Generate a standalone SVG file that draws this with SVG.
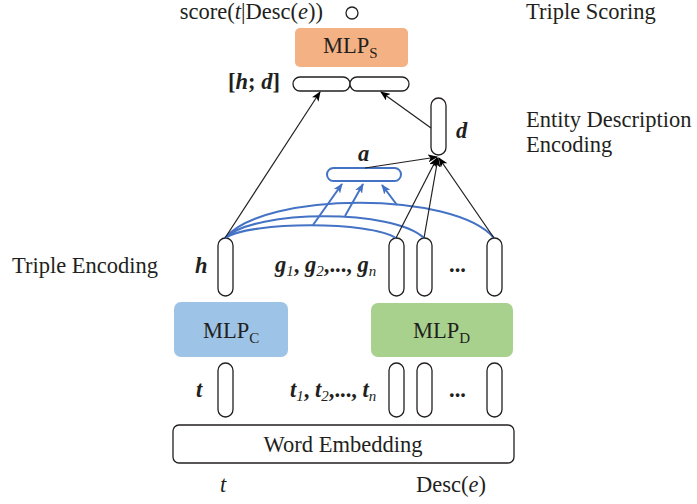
<svg xmlns="http://www.w3.org/2000/svg" width="697" height="504" viewBox="0 0 697 504">
<defs>
<marker id="ak" markerWidth="10" markerHeight="8" refX="9" refY="4" orient="auto" markerUnits="userSpaceOnUse"><path d="M0,0 L10,4 L0,8 L2.5,4 Z" fill="#000"/></marker>
<marker id="ab" markerWidth="10" markerHeight="8" refX="9" refY="4" orient="auto" markerUnits="userSpaceOnUse"><path d="M0,0 L10,4 L0,8 L2.5,4 Z" fill="#4472C4"/></marker>
</defs>
<style>
text{font-family:"Liberation Serif","Times New Roman",serif;font-size:22.5px;fill:#231F20}
.bi{font-weight:bold;font-style:italic}
.sub{font-size:15px}
.cap{fill:#fff;stroke:#231F20;stroke-width:1.3}
.k{stroke:#231F20;stroke-width:1.2;fill:none}
.b{stroke:#4472C4;stroke-width:2;fill:none}
</style>
<rect width="697" height="504" fill="#fff"/>

<g id="labels">
<text x="526" y="19">Triple Scoring</text>
<text x="526" y="127">Entity Description</text>
<text x="526" y="152">Encoding</text>
<text x="12" y="273">Triple Encoding</text>
</g>

<g id="score">
<text x="323" y="19" text-anchor="end">score(<tspan font-style="italic">t</tspan>|Desc(<tspan font-style="italic">e</tspan>))</text>
<circle cx="352" cy="13" r="6" fill="#fff" stroke="#231F20" stroke-width="1.3"/>
</g>

<g id="mlp-s">
<rect x="295" y="28" width="113" height="39" rx="5" fill="#F4B183"/>
<text x="323" y="53">MLP<tspan class="sub" dy="5">S</tspan></text>
</g>

<g id="hd">
<text x="228" y="89" font-weight="bold">[<tspan font-style="italic">h</tspan>; <tspan font-style="italic">d</tspan>]</text>
<rect class="cap" x="293" y="77" width="57" height="14" rx="7"/>
<rect class="cap" x="350" y="77" width="59" height="14" rx="7"/>
</g>

<g id="d-node">
<rect class="cap" x="431" y="98" width="15" height="57" rx="7.5"/>
<text class="bi" x="456" y="138">d</text>
</g>

<g id="a-node">
<rect x="327" y="168" width="74" height="13" rx="6.5" fill="#fff" stroke="#4472C4" stroke-width="2"/>
<text class="bi" x="358" y="161">a</text>
</g>

<g id="h-node">
<rect class="cap" x="218" y="238" width="15" height="58" rx="7.5"/>
<text class="bi" x="195" y="273">h</text>
</g>

<g id="g-nodes">
<rect class="cap" x="389" y="238" width="15" height="58" rx="7.5"/>
<rect class="cap" x="417" y="238" width="15" height="58" rx="7.5"/>
<rect class="cap" x="487" y="238" width="15" height="58" rx="7.5"/>
<text x="275" y="272" class="bi">g<tspan class="sub" font-weight="normal" dy="4">1</tspan><tspan dy="-4" font-style="normal">, </tspan>g<tspan class="sub" font-weight="normal" dy="4">2</tspan><tspan dy="-4" font-style="normal">,..., </tspan>g<tspan class="sub" font-weight="normal" dy="4">n</tspan></text>
<text x="449" y="272" font-weight="bold">...</text>
</g>

<g id="mlp-c">
<rect x="174" y="302" width="114" height="55" rx="7" fill="#9DC3E6"/>
<text x="203" y="338">MLP<tspan class="sub" dy="5">C</tspan></text>
</g>

<g id="mlp-d">
<rect x="371" y="303" width="142" height="54" rx="7" fill="#A9D18E"/>
<text x="413" y="338">MLP<tspan class="sub" dy="5">D</tspan></text>
</g>

<g id="t-nodes">
<rect class="cap" x="218" y="363" width="15" height="54" rx="7.5"/>
<text class="bi" x="196" y="397">t</text>
<rect class="cap" x="389" y="363" width="15" height="54" rx="7.5"/>
<rect class="cap" x="417" y="363" width="15" height="54" rx="7.5"/>
<rect class="cap" x="487" y="363" width="15" height="54" rx="7.5"/>
<text x="290" y="397" class="bi">t<tspan class="sub" font-weight="normal" dy="4">1</tspan><tspan dy="-4" font-style="normal">, </tspan>t<tspan class="sub" font-weight="normal" dy="4">2</tspan><tspan dy="-4" font-style="normal">,..., </tspan>t<tspan class="sub" font-weight="normal" dy="4">n</tspan></text>
<text x="449" y="397" font-weight="bold">...</text>
</g>

<g id="word-embedding">
<rect x="173" y="425" width="341" height="38" rx="6" fill="#fff" stroke="#231F20" stroke-width="1.3"/>
<text x="343" y="452" text-anchor="middle">Word Embedding</text>
</g>

<g id="inputs">
<text x="220" y="492" font-style="italic">t</text>
<text x="416" y="492">Desc(<tspan font-style="italic">e</tspan>)</text>
</g>

<g id="connectors">
<path class="b" d="M225,238 C251,221 370,221 396,238"/>
<path class="b" d="M225,238 C255,209 394,209 424,238"/>
<path class="b" d="M225,238 C265,191 454,191 494,238"/>
<line class="b" x1="313" y1="225" x2="342" y2="184" marker-end="url(#ab)"/>
<line class="b" x1="345" y1="216" x2="363" y2="184" marker-end="url(#ab)"/>
<line class="b" x1="397" y1="205" x2="382" y2="185" marker-end="url(#ab)"/>
<line class="k" x1="365" y1="168" x2="437" y2="157" marker-end="url(#ak)"/>
<line class="k" x1="396" y1="238" x2="437" y2="158" marker-end="url(#ak)"/>
<line class="k" x1="424" y1="238" x2="438" y2="158" marker-end="url(#ak)"/>
<line class="k" x1="494" y1="238" x2="439" y2="158" marker-end="url(#ak)"/>
<line class="k" x1="225" y1="238" x2="320" y2="92" marker-end="url(#ak)"/>
<line class="k" x1="431" y1="128" x2="381" y2="92" marker-end="url(#ak)"/>
</g>
</svg>
